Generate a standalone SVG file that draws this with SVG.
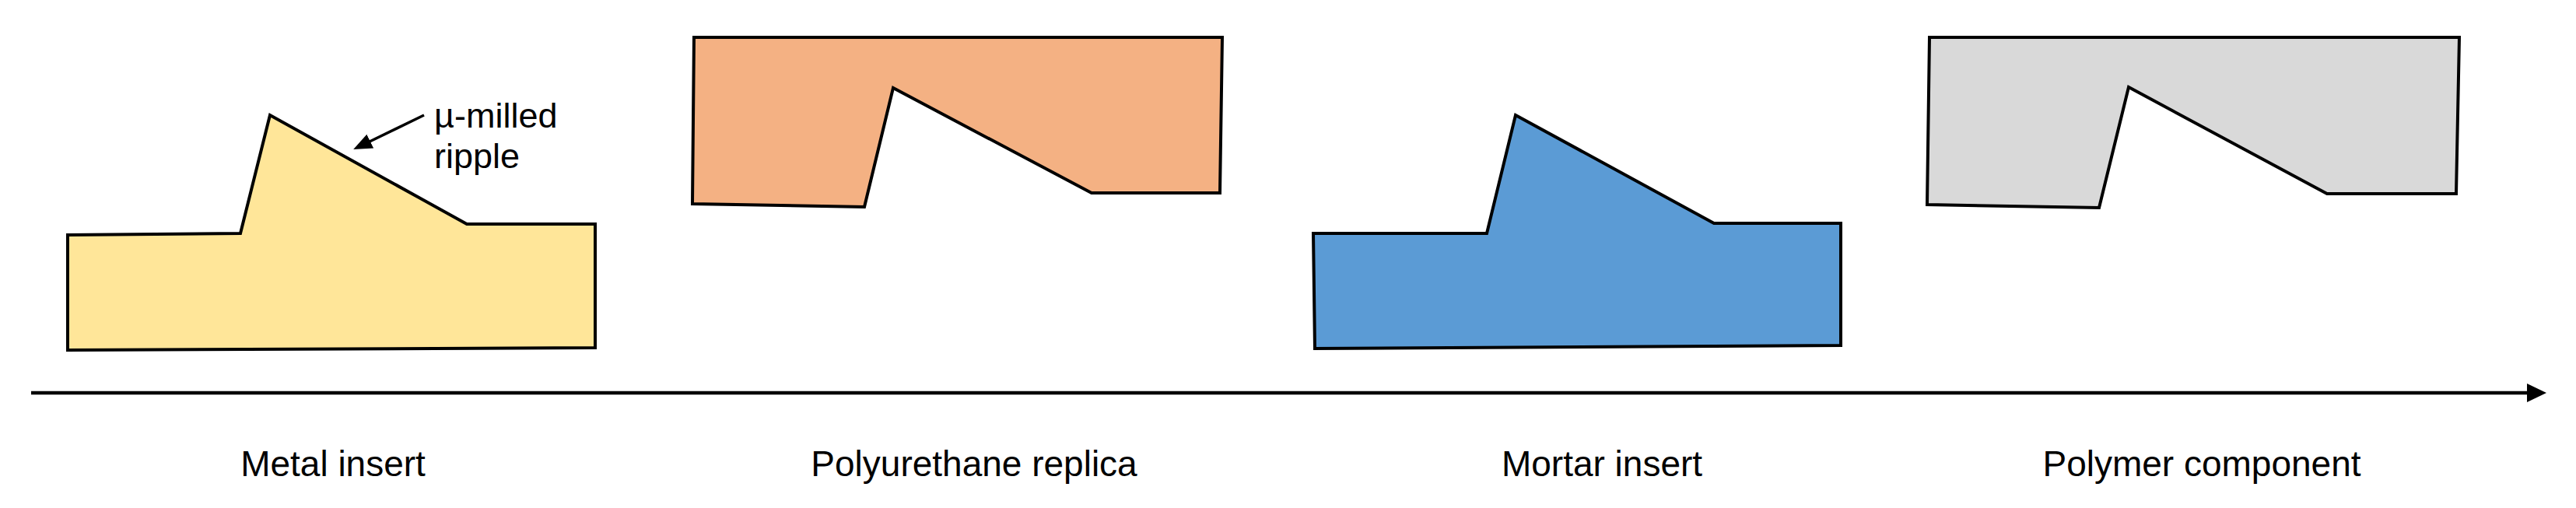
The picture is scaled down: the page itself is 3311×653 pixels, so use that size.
<svg xmlns="http://www.w3.org/2000/svg" width="3311" height="653" viewBox="0 0 3311 653">
  <style>
    .shape { stroke: #000; stroke-width: 4; stroke-linejoin: miter; }
    .label { font-family: "Liberation Sans", Arial, sans-serif; font-size: 46px; fill: #000; text-anchor: middle; }
    .note { font-family: "Liberation Sans", Arial, sans-serif; font-size: 45px; fill: #000; }
    .conn { stroke: #000; fill: none; }
  </style>
  <defs>
    <marker id="axisHead" markerUnits="userSpaceOnUse" markerWidth="26" markerHeight="26" viewBox="0 -13 26 26" refX="2" refY="0" orient="auto">
      <path d="M0,-12 L25,0 L0,12 Z" fill="#000"/>
    </marker>
    <marker id="noteHead" markerUnits="userSpaceOnUse" markerWidth="26" markerHeight="24" viewBox="0 -12 26 24" refX="2" refY="0" orient="auto">
      <path d="M0,-10 L24,0 L0,10 Z" fill="#000"/>
    </marker>
  </defs>
  <rect width="3311" height="653" fill="#fff"/>

  <g id="metal-insert">
    <polygon class="shape" fill="#FFE699" points="87,302 309,300 347,148 600,288 765,288 765,447 87,450"/>
    <text class="note" x="558" y="164">µ-milled</text>
    <text class="note" x="558" y="216">ripple</text>
    <text class="label" x="428" y="612">Metal insert</text>
  </g>

  <g id="polyurethane-replica">
    <polygon class="shape" fill="#F4B183" points="892,48 1571,48 1568,248 1403,248 1148,113 1111,266 890,262"/>
    <text class="label" x="1252" y="612">Polyurethane replica</text>
  </g>

  <g id="mortar-insert">
    <polygon class="shape" fill="#5B9BD5" points="1688,300 1911,300 1948,148 2203,287 2366,287 2366,444 1690,448"/>
    <text class="label" x="2059" y="612">Mortar insert</text>
  </g>

  <g id="polymer-component">
    <polygon class="shape" fill="#D9D9D9" points="2480,48 3161,48 3157,249 2991,249 2736,112 2698,267 2477,263"/>
    <text class="label" x="2830" y="612">Polymer component</text>
  </g>

  <g id="connectors">
    <line class="conn" x1="40" y1="505" x2="3250" y2="505" stroke-width="4.5" marker-end="url(#axisHead)"/>
    <line class="conn" x1="545" y1="148" x2="474" y2="182.5" stroke-width="3.5" marker-end="url(#noteHead)"/>
  </g>
</svg>
